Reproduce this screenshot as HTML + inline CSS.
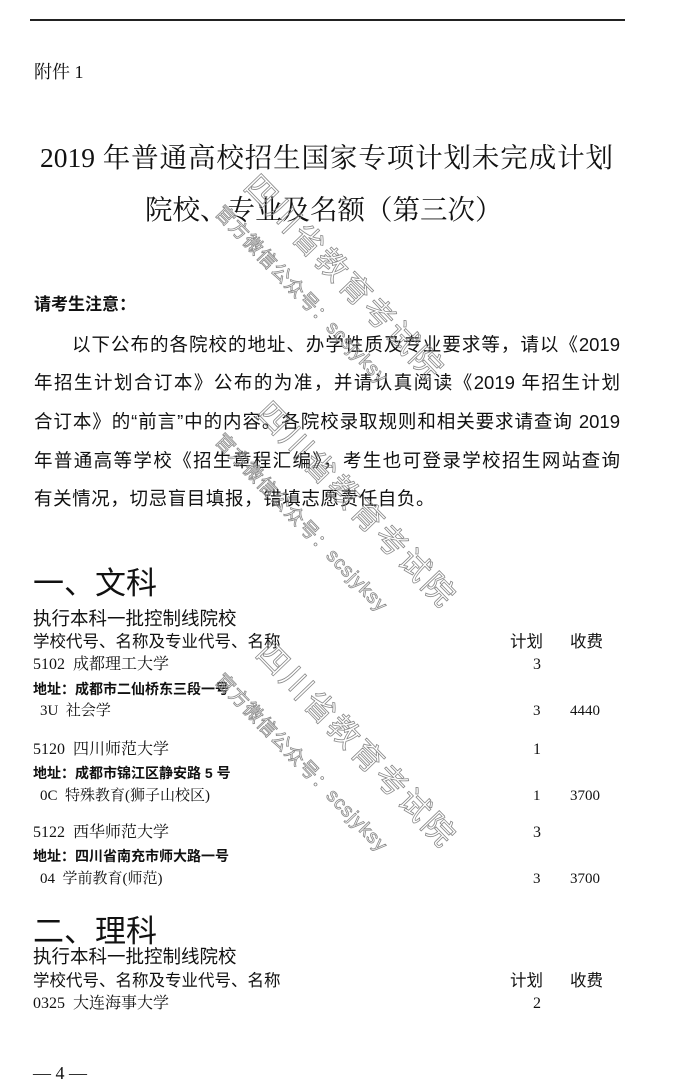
<!DOCTYPE html>
<html><head><meta charset="utf-8"><style>
body{margin:0;background:#fff;}
#p{position:relative;width:680px;height:1086px;overflow:hidden;background:#fff;color:#111;font-family:"Liberation Serif","Noto Serif CJK SC",serif;}
.t{position:absolute;white-space:nowrap;line-height:1;}
.j{position:absolute;line-height:1;text-align:justify;text-align-last:justify;white-space:nowrap;}
.s{font-family:"Liberation Sans","Noto Sans CJK SC",sans-serif;}
.wm{position:absolute;white-space:nowrap;line-height:1;color:transparent;-webkit-text-stroke:0.8px #888;font-family:"Liberation Sans","Noto Sans CJK SC",sans-serif;transform-origin:0 50%;transform:rotate(46deg);}
.b{font-size:31px;letter-spacing:3px;}
.m{font-size:19px;letter-spacing:1px;}
</style></head><body><div id="p">
<div style="position:absolute;left:30px;top:19px;width:595px;height:2px;background:#222"></div>
<div class="t" style="left:34px;top:63px;font-size:18px">附件 1</div>
<div class="j" style="left:40px;top:144px;width:573px;font-size:27.5px">2019 年普通高校招生国家专项计划未完成计划</div>
<div class="j" style="left:145px;top:196px;width:350px;font-size:27.5px">院校、专业及名额（第三次）</div>
<div class="t s" style="left:34px;top:296px;font-size:17px;font-weight:bold">请考生注意：</div>
<div class="j s" style="left:72px;top:336px;width:548px;font-size:18.5px">以下公布的各院校的地址、办学性质及专业要求等，请以《2019</div>
<div class="j s" style="left:34px;top:374px;width:586px;font-size:18.5px">年招生计划合订本》公布的为准，并请认真阅读《2019 年招生计划</div>
<div class="j s" style="left:34px;top:413px;width:586px;font-size:18.5px">合订本》的“前言”中的内容。各院校录取规则和相关要求请查询 2019</div>
<div class="j s" style="left:34px;top:452px;width:586px;font-size:18.5px">年普通高等学校《招生章程汇编》，考生也可登录学校招生网站查询</div>
<div class="t s" style="left:34px;top:490px;font-size:18.5px;letter-spacing:0.6px">有关情况，切忌盲目填报，错填志愿责任自负。</div>

<div class="t s" style="left:33px;top:568px;font-size:31px">一、文科</div>
<div class="t s" style="left:33px;top:610px;font-size:18.5px">执行本科一批控制线院校</div>
<div class="t s" style="left:33px;top:634px;font-size:16.5px">学校代号、名称及专业代号、名称</div>
<div class="t s" style="left:510px;top:634px;font-size:16.5px">计划</div>
<div class="t s" style="left:570px;top:634px;font-size:16.5px">收费</div>

<div class="t" style="left:33px;top:657px;font-size:16px">5102&nbsp;&nbsp;成都理工大学</div><div class="t" style="left:533px;top:657px;font-size:16px">3</div>
<div class="t s" style="left:33px;top:682px;font-size:14px;font-weight:bold">地址：成都市二仙桥东三段一号</div>
<div class="t" style="left:40px;top:704px;font-size:15px">3U&nbsp;&nbsp;社会学</div><div class="t" style="left:533px;top:704px;font-size:15px">3</div><div class="t" style="left:570px;top:704px;font-size:15px">4440</div>

<div class="t" style="left:33px;top:742px;font-size:16px">5120&nbsp;&nbsp;四川师范大学</div><div class="t" style="left:533px;top:742px;font-size:16px">1</div>
<div class="t s" style="left:33px;top:766px;font-size:14px;font-weight:bold">地址：成都市锦江区静安路 5 号</div>
<div class="t" style="left:40px;top:789px;font-size:15px">0C&nbsp;&nbsp;特殊教育(狮子山校区)</div><div class="t" style="left:533px;top:789px;font-size:15px">1</div><div class="t" style="left:570px;top:789px;font-size:15px">3700</div>

<div class="t" style="left:33px;top:825px;font-size:16px">5122&nbsp;&nbsp;西华师范大学</div><div class="t" style="left:533px;top:825px;font-size:16px">3</div>
<div class="t s" style="left:33px;top:849px;font-size:14px;font-weight:bold">地址：四川省南充市师大路一号</div>
<div class="t" style="left:40px;top:872px;font-size:15px">04&nbsp;&nbsp;学前教育(师范)</div><div class="t" style="left:533px;top:872px;font-size:15px">3</div><div class="t" style="left:570px;top:872px;font-size:15px">3700</div>

<div class="t s" style="left:33px;top:916px;font-size:31px">二、理科</div>
<div class="t s" style="left:33px;top:948px;font-size:18.5px">执行本科一批控制线院校</div>
<div class="t s" style="left:33px;top:973px;font-size:16.5px">学校代号、名称及专业代号、名称</div>
<div class="t s" style="left:510px;top:973px;font-size:16.5px">计划</div>
<div class="t s" style="left:570px;top:973px;font-size:16.5px">收费</div>
<div class="t" style="left:33px;top:996px;font-size:16px">0325&nbsp;&nbsp;大连海事大学</div><div class="t" style="left:533px;top:996px;font-size:16px">2</div>

<div class="t" style="left:33px;top:1064px;font-size:18px">— 4 —</div>

<div class="wm b" style="left:250px;top:165px">四川省教育考试院</div>
<div class="wm m" style="left:218px;top:200px">官方微信公众号：scsjyksy</div>
<div class="wm b" style="left:262px;top:392px">四川省教育考试院</div>
<div class="wm m" style="left:218px;top:428px">官方微信公众号：scsjyksy</div>
<div class="wm b" style="left:262px;top:632px">四川省教育考试院</div>
<div class="wm m" style="left:218px;top:668px">官方微信公众号：scsjyksy</div>
</div></body></html>
